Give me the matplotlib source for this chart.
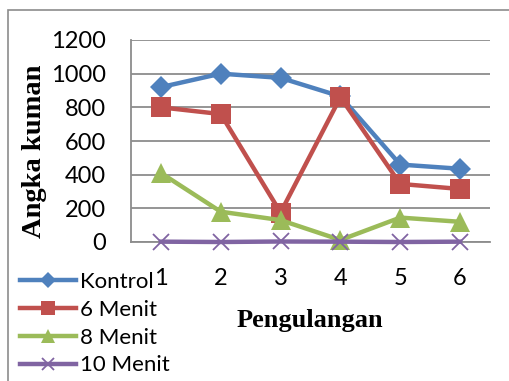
import matplotlib
matplotlib.use("Agg")
import matplotlib.pyplot as plt
from matplotlib.patches import Rectangle

# Data
pengulangan = ["1", "2", "3", "4", "5", "6"]
kontrol = [920, 1000, 975, 865, 460, 435]
menit_6 = [800, 760, 175, 860, 345, 315]
menit_8 = [410, 180, 130, 12, 145, 120]
menit_10 = [2, 0, 3, 2, 0, 2]
y_ticks = [0, 200, 400, 600, 800, 1000, 1200]

W, H = 510, 381
fig = plt.figure(figsize=(W / 100, H / 100), dpi=100)
fig.patch.set_facecolor("white")

# outer chart frame
fig.add_artist(Rectangle((8 / W, -0.05), 1.2, 1 - 10 / H + 0.05,
                         transform=fig.transFigure, fill=False,
                         edgecolor="#8c8c8c", linewidth=1.2))

ax = fig.add_axes([131 / W, 1 - 242 / H, (490 - 131) / W, (242 - 40) / H])

x = list(range(len(pengulangan)))
series = [
    ("Kontrol", kontrol, "#4F81BD", "D", 11),
    ("6 Menit", menit_6, "#C0504D", "s", 14),
    ("8 Menit", menit_8, "#9BBB59", "^", 14),
    ("10 Menit", menit_10, "#8064A2", "x", 12),
]
handles = []
for name, vals, col, mk, ms in series:
    kw = dict(markeredgewidth=1.3) if mk == "x" else dict(markeredgewidth=0)
    h, = ax.plot(x, vals, color=col, linewidth=3.2, marker=mk, markersize=ms,
                 markerfacecolor=col, markeredgecolor=col, label=name,
                 clip_on=False, zorder=3, **kw)
    handles.append(h)

ax.set_xlim(-0.5, len(pengulangan) - 0.5)
ax.set_ylim(0, 1200)
ax.set_yticks(y_ticks)
ax.set_xticks(x)
ax.set_xticklabels(pengulangan)
ax.grid(axis="y", color="#8c8c8c", linewidth=1.3)
ax.set_axisbelow(True)
for s in ["top", "right"]:
    ax.spines[s].set_visible(False)
for s in ["left", "bottom"]:
    ax.spines[s].set_color("#8c8c8c")
    ax.spines[s].set_linewidth(1.3)
ax.tick_params(length=0, labelsize=17)
ax.tick_params(axis="y", pad=18)
ax.tick_params(axis="x", pad=19)
for lbl in ax.get_xticklabels() + ax.get_yticklabels():
    lbl.set_fontfamily("Lato")

fig.text(35 / W, 1 - 151 / H, "Angka kuman", rotation=90, ha="center",
         va="center", fontsize=20.5, fontweight="bold",
         fontfamily="Liberation Serif")
fig.text(310 / W, 1 - 320 / H, "Pengulangan", ha="center", va="center",
         fontsize=19, fontweight="bold", fontfamily="Liberation Serif")

leg = fig.legend(handles=handles, loc="upper left",
                 bbox_to_anchor=(20 / W, 1 - 272 / H), frameon=False,
                 prop={"family": "Lato", "size": 16}, handlelength=2.5,
                 handletextpad=0.2, labelspacing=0.35, borderpad=0,
                 borderaxespad=0, markerscale=0.75)

fig.savefig("out.png", dpi=100)
